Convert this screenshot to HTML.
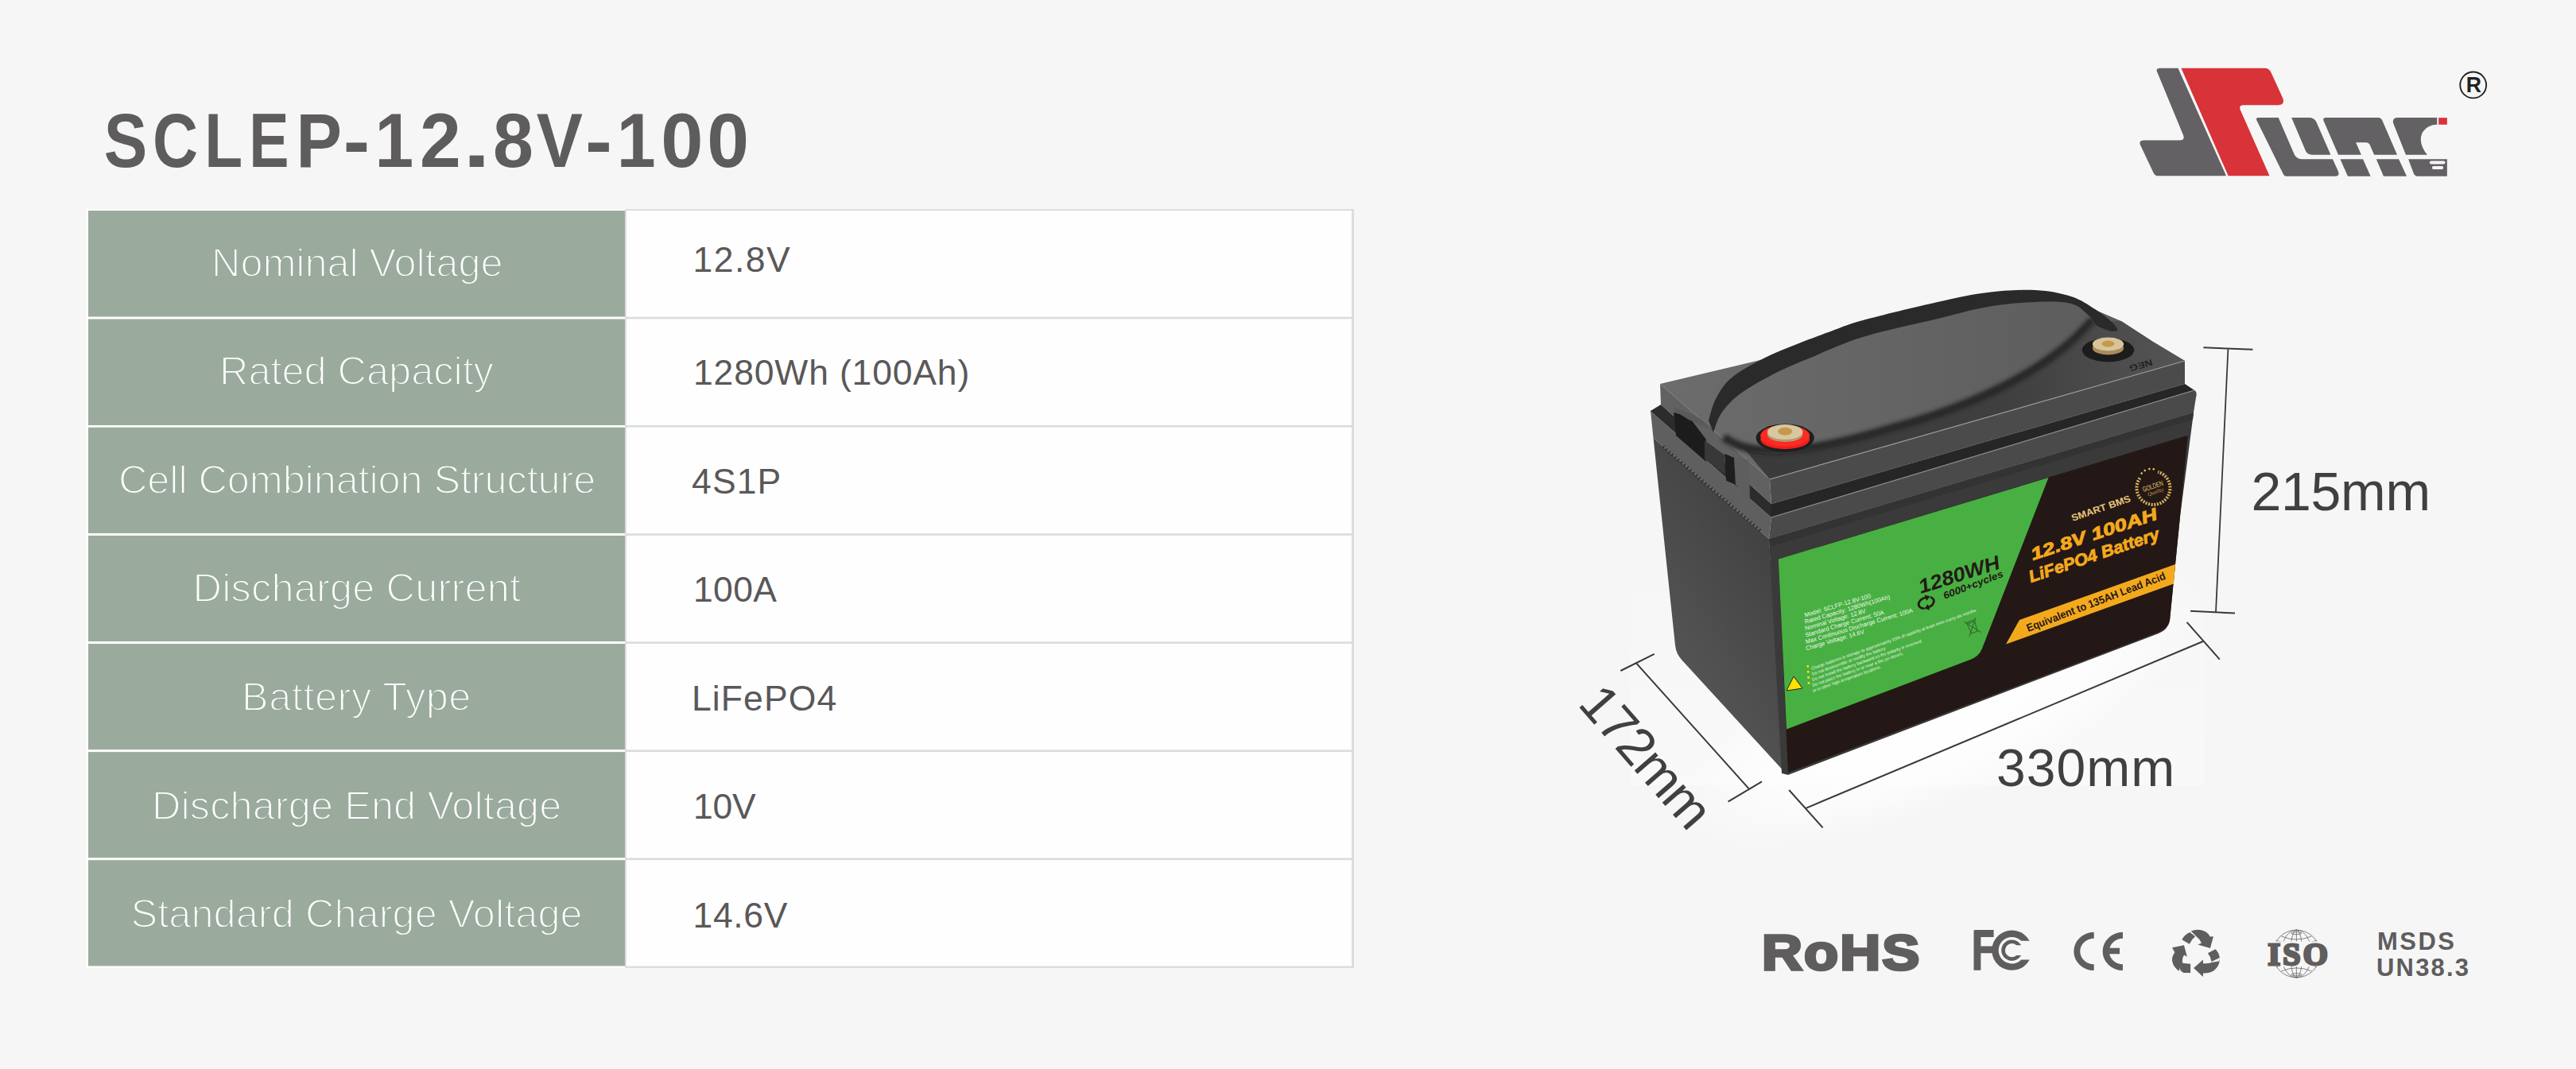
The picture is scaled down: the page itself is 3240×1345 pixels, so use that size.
<!DOCTYPE html>
<html><head><meta charset="utf-8">
<style>
html,body{margin:0;padding:0;background:#f6f6f6;}
body{width:3240px;height:1345px;overflow:hidden;position:relative;font-family:"Liberation Sans",sans-serif;}
svg{position:absolute;left:0;top:0;}
</style></head>
<body>
<svg width="3240" height="1345" viewBox="0 0 3240 1345">
<rect x="0" y="0" width="3240" height="1345" fill="#f6f6f6"/>
<g id="battery">
<defs>
<linearGradient id="gSide" x1="0.8" y1="0" x2="0.2" y2="1">
<stop offset="0" stop-color="#3c3c3c"/><stop offset="0.6" stop-color="#4f4f4f"/><stop offset="1" stop-color="#5a5a5a"/>
</linearGradient>
<radialGradient id="gDome" cx="0.5" cy="0.45" r="0.55">
<stop offset="0" stop-color="#737373"/><stop offset="0.75" stop-color="#6a6a6a"/><stop offset="1" stop-color="#505050"/>
</radialGradient>
<linearGradient id="gTop" x1="0" y1="0" x2="1" y2="0">
<stop offset="0" stop-color="#6c6c6c"/><stop offset="0.5" stop-color="#636363"/><stop offset="1" stop-color="#5a5a5a"/>
</linearGradient>
<filter id="blur2" x="-5%" y="-20%" width="110%" height="140%"><feGaussianBlur stdDeviation="2.5"/></filter>
</defs>
<!-- photo background -->
<linearGradient id="gPhoto" x1="0" y1="0" x2="0" y2="1"><stop offset="0" stop-color="#f6f6f6"/><stop offset="0.55" stop-color="#f6f6f6"/><stop offset="1" stop-color="#f9f9f9"/></linearGradient>
<rect x="2050" y="300" width="722" height="688" fill="url(#gPhoto)"/>
<!-- floor glow -->
<radialGradient id="gGlow"><stop offset="0" stop-color="#ffffff" stop-opacity="1"/><stop offset="0.6" stop-color="#ffffff" stop-opacity="0.7"/><stop offset="1" stop-color="#ffffff" stop-opacity="0"/></radialGradient>
<ellipse cx="2440" cy="890" rx="360" ry="120" fill="url(#gGlow)" transform="rotate(-24 2440 890)"/>
<!-- body side face -->
<path d="M2079.5,551 L2225,678 L2246,973 L2115,830 Q2108,822 2107,812 Z" fill="url(#gSide)"/>
<!-- rim side face -->
<path d="M2076,517 L2228,651 L2225,678 L2079.5,551 Z" fill="#5f5f5f"/>
<path d="M2076,517 L2228,651" stroke="#777" stroke-width="1.5"/>
<!-- serration -->
<path d="M2091.6,562 L2215.6,669" stroke="#2a2a2a" stroke-width="4" stroke-dasharray="1.5 3.5"/>
<!-- groove side -->
<path d="M2089,509 L2228,634 L2228,651 L2076,517 Z" fill="#2c2c2c"/>
<!-- lid side face -->
<path d="M2088,483 L2226,603 L2228,634 L2089,509 Z" fill="#616161"/>
<!-- slot on lid side -->
<path d="M2105,519 L2124,524 L2146,553 L2146,581 L2108,548 Z" fill="#1c1c1c"/>
<path d="M2144,554 L2169.4,572.7 L2169.4,596.3 L2144,577.8 Z" fill="#383838"/>
<path d="M2169.4,571 L2181.2,576.1 L2182.9,609.8 L2171.1,604.7 Z" fill="#1e1e1e"/>
<path d="M2181.2,574.4 L2199.8,579 L2201,632 L2182.9,609.8 Z" fill="#5e5e5e"/>
<path d="M2106,512 L2154,533 L2154,541 L2124,528 L2106,517 Z" fill="#5a5a5a"/>
<!-- lid top surface -->
<path d="M2088,483 L2214,453 L2400,400 L2560,368 L2610,376 L2640,392 L2668,404 L2708,430 L2748,454 L2226,603 Z" fill="url(#gTop)"/>
<!-- flat front region below dome -->
<linearGradient id="gFlat" x1="0" y1="0" x2="1" y2="0"><stop offset="0" stop-color="#3a3a3a"/><stop offset="0.6" stop-color="#3f3f3f"/><stop offset="1" stop-color="#555555"/></linearGradient>
<path d="M2190,560 C2215,580 2275,572 2380,540 C2470,516 2580,470 2636,404 L2668,404 L2708,430 L2748,454 L2226,603 Z" fill="url(#gFlat)"/>
<path d="M2168,550 C2205,578 2275,570 2380,538 C2470,514 2575,470 2632,402" fill="none" stroke="#262626" stroke-width="10" filter="url(#blur2)"/>
<!-- lid front face -->
<path d="M2226,603 L2748,454 L2748,483 L2228,634 Z" fill="#4b4b4b"/>
<path d="M2226,603 L2748,454" stroke="#9c9c9c" stroke-width="1.2"/>
<!-- groove front -->
<path d="M2228,634 L2748,483 L2760,491 L2228,651 Z" fill="#262626"/>
<!-- rim front face -->
<path d="M2228,651 Q2760,491 2760,491 Q2764,493 2762,500 L2759,519 L2225,678 Z" fill="#4a4a4a"/>
<path d="M2228,651 L2760,491" stroke="#8c8c8c" stroke-width="1.2"/>
<!-- body front face -->
<path d="M2225,678 L2759,519 L2742,650 L2729,781 Q2727,792 2715,797 L2249,975 L2241,973 Z" fill="#3a3a3a"/>
<path d="M2225,678 L2759,519 L2758,528 L2226,688 Z" fill="#333"/>
<!-- label dark -->
<path d="M2236.8,703.5 L2751.6,547.7 L2742,650 L2729,781 Q2727,790 2716,795 L2249,972 Z" fill="#231815"/>
<!-- green -->
<path d="M2236.8,703.5 L2576.5,601 L2493,816 Q2489,826 2478,830 L2247,917.4 Z" fill="#48b042"/>
<!-- gold band -->
<path d="M2540,780 L2736,710 L2734,734.5 L2523,810.5 Z" fill="#f4a91d"/>
<text transform="translate(2551,795) rotate(-21)" font-family="Liberation Sans" font-weight="bold" font-size="13.5" fill="#231815" textLength="186" lengthAdjust="spacingAndGlyphs">Equivalent to 135AH Lead Acid</text>
<text transform="translate(2557,705) rotate(-18.3)" font-family="Liberation Sans" font-weight="bold" font-style="italic" font-size="21.5" fill="#f4a91d" stroke="#f4a91d" stroke-width="0.9" textLength="166" lengthAdjust="spacingAndGlyphs">12.8V 100AH</text>
<text transform="translate(2554.5,733) rotate(-18.7)" font-family="Liberation Sans" font-weight="bold" font-style="italic" font-size="21" fill="#f4a91d" stroke="#f4a91d" stroke-width="0.8" textLength="172" lengthAdjust="spacingAndGlyphs">LiFePO4 Battery</text>
<text transform="translate(2607,656) rotate(-19)" font-family="Liberation Sans" font-weight="bold" font-size="12" fill="#e9c47c" textLength="78" lengthAdjust="spacingAndGlyphs">SMART BMS</text>
<!-- badge -->
<g transform="translate(2708.4,613.7) rotate(-19)">
<path d="M-12,-17 A21,21 0 1 0 12,-17" fill="none" stroke="#d9b45e" stroke-width="4" stroke-dasharray="2 1.6"/>
<g fill="#e6c46c"><circle cx="-8" cy="-22" r="1.3"/><circle cx="-3" cy="-24" r="1.3"/><circle cx="3" cy="-24" r="1.3"/><circle cx="8" cy="-22" r="1.3"/></g>
<text x="0" y="1" text-anchor="middle" font-family="Liberation Sans" font-size="9" fill="#e6c46c" textLength="27" lengthAdjust="spacingAndGlyphs">GOLDEN</text>
<text x="1" y="8" text-anchor="middle" font-family="Liberation Serif" font-style="italic" font-size="7" fill="#c9a050">Quality</text>
</g>
<!-- green text -->
<text transform="translate(2416,747) rotate(-17.6)" font-family="Liberation Sans" font-weight="bold" font-style="italic" font-size="25" fill="#221a17" textLength="106" lengthAdjust="spacingAndGlyphs">1280WH</text>
<text transform="translate(2446,754) rotate(-21)" font-family="Liberation Sans" font-weight="bold" font-style="italic" font-size="12.5" fill="#221a17" textLength="80" lengthAdjust="spacingAndGlyphs">6000+cycles</text>
<g transform="translate(2424,758) rotate(-20)" fill="none" stroke="#221a17" stroke-width="2.8">
<path d="M-6,6 A9,6.5 0 0 1 2,-6"/><path d="M6,-5 A9,6.5 0 0 1 -2,6"/>
</g>
<g transform="translate(2424,758) rotate(-20)" fill="#221a17">
<path d="M0,-10 L6,-6 L0,-2 Z"/><path d="M0,10 L-6,6 L0,2 Z"/>
</g>
<g font-family="Liberation Sans" font-size="7.6" fill="#eef6ec">
<text transform="translate(2270.5,776.5) rotate(-16.5)">Model: SCLFP-12.8V-100</text>
<text transform="translate(2270.8,784.9) rotate(-16.5)">Rated Capacity: 1280Wh(100Ah)</text>
<text transform="translate(2271.1,793.3) rotate(-16.5)">Nominal Voltage: 12.8V</text>
<text transform="translate(2271.4,801.7) rotate(-16.5)">Standard Charge Current: 50A</text>
<text transform="translate(2271.7,810.1) rotate(-16.5)">Max Continuous Discharge Current: 100A</text>
<text transform="translate(2272.0,818.5) rotate(-16.5)">Charge Voltage: 14.6V</text>
</g>
<g font-family="Liberation Sans" font-size="5.4" fill="#eef6ec">
<text transform="translate(2279.0,843.0) rotate(-19.6)">Charge batteries in storage to approximately 33% of capacity at least once every six months</text>
<text transform="translate(2279.4,850.0) rotate(-19.6)">Do not disassemble or modify the battery</text>
<text transform="translate(2279.8,857.0) rotate(-19.6)">Do not install the battery backward so the polarity is reversed</text>
<text transform="translate(2280.2,864.0) rotate(-19.6)">Do not place the battery in or near a fire,on stoves,</text>
<text transform="translate(2280.6,871.0) rotate(-19.6)">or in other high-temperature locations.</text>
</g>
<g fill="#f2e600">
<rect x="2272.5" y="837.0" width="2.6" height="2.6"/>
<rect x="2272.9" y="844.0" width="2.6" height="2.6"/>
<rect x="2273.3" y="851.0" width="2.6" height="2.6"/>
<rect x="2273.7" y="858.0" width="2.6" height="2.6"/>
</g>
<path d="M2247,869 L2256,851 L2267,866 Z" fill="#ffe100" stroke="#222" stroke-width="1"/>
<g transform="translate(2481,789) rotate(-20)" fill="none" stroke="#2a4a2a" stroke-width="0.9" opacity="0.8">
<path d="M-5,-6 L5,-6 L4,7 L-4,7 Z"/><path d="M-6,-8 L6,-8"/><path d="M-8,-10 L8,10 M8,-10 L-8,10"/>
</g>
<text transform="translate(2706,452) rotate(164)" font-family="Liberation Sans" font-weight="bold" font-size="11" fill="#222" textLength="30" lengthAdjust="spacingAndGlyphs">NEG</text>
<!-- strap -->
<path d="M2149,529 C2150.5,524.5 2153.3,510.8 2158.0,502.0 C2162.7,493.2 2167.0,484.5 2177.0,476.0 C2187.0,467.5 2204.2,458.2 2218.0,451.0 C2231.8,443.8 2245.5,438.8 2260.0,433.0 C2274.5,427.2 2291.2,421.0 2305.0,416.0 C2318.8,411.0 2321.0,409.0 2343.0,403.0 C2365.0,397.0 2410.8,385.8 2437.0,380.0 C2463.2,374.2 2479.5,370.5 2500.0,368.0 C2520.5,365.5 2542.5,364.2 2560.0,365.0 C2577.5,365.8 2592.5,369.0 2605.0,373.0 C2617.5,377.0 2626.3,383.5 2635.0,389.0 C2643.7,394.5 2652.2,401.5 2657.0,406.0 C2661.8,410.5 2662.8,414.3 2664.0,416.0 L2656,417 C2653.0,415.8 2642.8,413.3 2638.0,410.0 C2633.2,406.7 2632.5,401.7 2627.0,397.0 C2621.5,392.3 2616.2,384.8 2605.0,382.0 C2593.8,379.2 2577.5,379.3 2560.0,380.0 C2542.5,380.7 2520.5,382.5 2500.0,386.0 C2479.5,389.5 2463.2,394.7 2437.0,401.0 C2410.8,407.3 2370.0,415.7 2343.0,424.0 C2316.0,432.3 2293.8,443.2 2275.0,451.0 C2256.2,458.8 2244.5,463.5 2230.0,471.0 C2215.5,478.5 2198.8,487.8 2188.0,496.0 C2177.2,504.2 2170.5,512.0 2165.0,520.0 C2159.5,528.0 2156.7,540.0 2155.0,544.0 Z" fill="#2a2a2a"/>
<!-- terminals -->
<ellipse cx="2245.2" cy="551" rx="36.6" ry="17.5" fill="#1e1e1e"/>
<ellipse cx="2245.2" cy="553" rx="31" ry="12" fill="#e8201e"/>
<ellipse cx="2245.2" cy="548.3" rx="31" ry="13.5" fill="#ff2a22"/>
<ellipse cx="2245.2" cy="546.5" rx="22.3" ry="9.5" fill="#b39a6e"/>
<ellipse cx="2245.2" cy="543.5" rx="22.3" ry="9.5" fill="#d8c7a0"/>
<ellipse cx="2245.2" cy="542.7" rx="9" ry="5" fill="#c49a4a"/>
<ellipse cx="2651.5" cy="440.4" rx="32.7" ry="15" fill="#1c1c1c"/>
<ellipse cx="2651.5" cy="438" rx="19.6" ry="8.4" fill="#a88c5c"/>
<ellipse cx="2651.5" cy="433" rx="19.6" ry="8.4" fill="#d9c49a"/>
<ellipse cx="2651.5" cy="432.5" rx="8" ry="4" fill="#c49a4a"/>
</g>

<g font-family="Liberation Sans" font-weight="bold" font-size="97" fill="#5e5c5d"><text transform="translate(130.67,0) scale(0.8431,1)" x="0" y="209.8">S</text><text transform="translate(192.04,0) scale(0.8143,1)" x="0" y="209.8">C</text><text transform="translate(257.25,0) scale(0.8080,1)" x="0" y="209.8">L</text><text transform="translate(313.34,0) scale(0.7764,1)" x="0" y="209.8">E</text><text transform="translate(372.47,0) scale(0.8891,1)" x="0" y="209.8">P</text><text transform="translate(431.87,0) scale(1.0333,1)" x="0" y="209.8">-</text><text transform="translate(471.59,0) scale(0.9022,1)" x="0" y="209.8">1</text><text transform="translate(528.12,0) scale(0.9596,1)" x="0" y="209.8">2</text><text transform="translate(582.21,0) scale(1.2846,1)" x="0" y="209.8">.</text><text transform="translate(620.07,0) scale(0.9438,1)" x="0" y="209.8">8</text><text transform="translate(674.80,0) scale(0.9000,1)" x="0" y="209.8">V</text><text transform="translate(735.90,0) scale(1.0500,1)" x="0" y="209.8">-</text><text transform="translate(775.86,0) scale(0.9067,1)" x="0" y="209.8">1</text><text transform="translate(831.35,0) scale(0.9870,1)" x="0" y="209.8">0</text><text transform="translate(889.19,0) scale(0.9783,1)" x="0" y="209.8">0</text></g>

<rect x="108.5" y="263" width="680" height="955" fill="#ffffff"/>
<rect x="786" y="263" width="917" height="955" fill="#dcdedd"/>
<rect x="788" y="265" width="912" height="950.5" fill="#fefefe"/>
<g fill="#9aab9e">
<rect x="111" y="265" width="675" height="133.5"/>
<rect x="111" y="401.5" width="675" height="133.5"/>
<rect x="111" y="537.8" width="675" height="133.1"/>
<rect x="111" y="673.9" width="675" height="133.1"/>
<rect x="111" y="810" width="675" height="133.1"/>
<rect x="111" y="946.1" width="675" height="133.1"/>
<rect x="111" y="1082.2" width="675" height="133.2"/>
</g>
<g fill="#dadcdb">
<rect x="788" y="398.7" width="912" height="2.6"/>
<rect x="788" y="535" width="912" height="2.6"/>
<rect x="788" y="671.2" width="912" height="2.6"/>
<rect x="788" y="807.3" width="912" height="2.6"/>
<rect x="788" y="943.4" width="912" height="2.6"/>
<rect x="788" y="1079.5" width="912" height="2.6"/>
</g>

<text x="266.00" y="347.6" font-family="Liberation Sans" font-weight="normal" font-size="50.5" fill="#ffffff" stroke="#9aab9e" stroke-width="1.9" textLength="366.57" lengthAdjust="spacing">Nominal Voltage</text>
<text x="276.00" y="483.9" font-family="Liberation Sans" font-weight="normal" font-size="50.5" fill="#ffffff" stroke="#9aab9e" stroke-width="1.9" textLength="344.87" lengthAdjust="spacing">Rated Capacity</text>
<text x="149.00" y="621.1" font-family="Liberation Sans" font-weight="normal" font-size="50.5" fill="#ffffff" stroke="#9aab9e" stroke-width="1.9" textLength="600.27" lengthAdjust="spacing">Cell Combination Structure</text>
<text x="242.50" y="757.4" font-family="Liberation Sans" font-weight="normal" font-size="50.5" fill="#ffffff" stroke="#9aab9e" stroke-width="1.9" textLength="412.58" lengthAdjust="spacing">Discharge Current</text>
<text x="304.00" y="893.9" font-family="Liberation Sans" font-weight="normal" font-size="50.5" fill="#ffffff" stroke="#9aab9e" stroke-width="1.9" textLength="288.39" lengthAdjust="spacing">Battery Type</text>
<text x="191.00" y="1030.7" font-family="Liberation Sans" font-weight="normal" font-size="50.5" fill="#ffffff" stroke="#9aab9e" stroke-width="1.9" textLength="515.37" lengthAdjust="spacing">Discharge End Voltage</text>
<text x="164.50" y="1167.4" font-family="Liberation Sans" font-weight="normal" font-size="50.5" fill="#ffffff" stroke="#9aab9e" stroke-width="1.9" textLength="568.14" lengthAdjust="spacing">Standard Charge Voltage</text>
<text x="871.50" y="341.8" font-family="Liberation Sans" font-weight="normal" font-size="44.5" fill="#5a5859"  textLength="122.10" lengthAdjust="spacing">12.8V</text>
<text x="872.00" y="483.8" font-family="Liberation Sans" font-weight="normal" font-size="44.5" fill="#5a5859"  textLength="347.24" lengthAdjust="spacing">1280Wh (100Ah)</text>
<text x="870.00" y="620.9" font-family="Liberation Sans" font-weight="normal" font-size="44.5" fill="#5a5859"  textLength="112.28" lengthAdjust="spacing">4S1P</text>
<text x="872.00" y="757.2" font-family="Liberation Sans" font-weight="normal" font-size="44.5" fill="#5a5859"  textLength="104.94" lengthAdjust="spacing">100A</text>
<text x="870.00" y="893.5" font-family="Liberation Sans" font-weight="normal" font-size="44.5" fill="#5a5859"  textLength="182.22" lengthAdjust="spacing">LiFePO4</text>
<text x="872.00" y="1030.0" font-family="Liberation Sans" font-weight="normal" font-size="44.5" fill="#5a5859"  textLength="78.79" lengthAdjust="spacing">10V</text>
<text x="871.50" y="1166.6" font-family="Liberation Sans" font-weight="normal" font-size="44.5" fill="#5a5859"  textLength="118.90" lengthAdjust="spacing">14.6V</text>
<text x="2831.50" y="642.3" font-family="Liberation Sans" font-weight="normal" font-size="68" fill="#423f40"  textLength="225.55" lengthAdjust="spacing">215mm</text>
<text x="2511.00" y="989.1" font-family="Liberation Sans" font-weight="normal" font-size="66" fill="#423f40"  textLength="224.28" lengthAdjust="spacing">330mm</text>
<g transform="scale(1.12,1)"><text x="1978.57" y="1220.3" font-family="Liberation Sans" font-weight="bold" font-size="63" fill="#5f5d5e" stroke="#5f5d5e" stroke-width="3.5" textLength="177.00" lengthAdjust="spacing">RoHS</text></g>
<text x="2852.50" y="1214.0" font-family="Liberation Serif" font-weight="bold" font-size="40" fill="#5f5d5e" stroke="#5f5d5e" stroke-width="3" textLength="75.34" lengthAdjust="spacing">ISO</text>
<text x="2990.00" y="1195.0" font-family="Liberation Sans" font-weight="bold" font-size="31" fill="#5f5d5e"  textLength="96.98" lengthAdjust="spacing">MSDS</text>
<text x="2989.00" y="1228.0" font-family="Liberation Sans" font-weight="bold" font-size="31" fill="#5f5d5e"  textLength="116.11" lengthAdjust="spacing">UN38.3</text>
<g id="logo">
<g transform="translate(2650,60) scale(0.19798)">
<path fill="#636163" d="M318,152 Q310,130 338,130 L452,130 L758,815 L328,815 Q306,815 296,795 L212,618 Q200,588 238,588 L462,588 Q497,588 485,556 Z"/>
<path fill="#d73338" d="M472,130 L1003,130 Q1030,130 1043,158 L1118,322 Q1132,365 1088,365 L868,365 Q836,365 848,396 L1033,815 L771,815 Z"/>
<circle cx="2327" cy="237" r="83" fill="none" stroke="#222" stroke-width="9.5"/>
<text x="2330" y="283" text-anchor="middle" font-family="Liberation Sans" font-weight="bold" font-size="142" fill="#222" transform="translate(2330,0) scale(0.95,1) translate(-2330,0)">R</text>
</g>
<g transform="translate(2830,140) scale(0.10481)" fill="#636163">
<path d="M78,104 Q70,76 98,76 L341,76 L522,496 Q550,574 622,574 L992,574 L1058,720 Q1080,779 1025,779 L432,779 Q410,779 400,757 Z"/>
<path d="M498,76 L707,76 Q770,76 797,132 L968,522 L742,522 Q690,522 668,478 Z"/>
<path d="M1083,576 L1355,576 L1447,779 L1173,779 Z"/>
<path d="M882,112 Q872,76 910,76 L1540,76 Q1572,76 1588,112 L1765,522 L1490,522 L1440,408 Q1425,375 1390,375 L1270,375 L1335,522 L1060,522 Z"/>
<path d="M1515,576 L1785,576 L1880,779 L1603,779 Z"/>
<path d="M1718,140 Q1705,76 1772,76 L2245,76 L2245,160 Q2120,162 2065,262 Q2015,385 2127,522 L1870,522 Z"/>
<path d="M1900,576 L2365,576 L2365,779 L2010,779 Q1978,779 1962,742 Z"/>
<path fill="#d73338" d="M2263,78 L2365,78 L2365,160 L2263,160 Z"/>
<rect x="2155" y="596" width="187" height="38" rx="19" fill="#f6f6f6"/>
<rect x="2184" y="658" width="136" height="38" rx="19" fill="#f6f6f6"/>
</g>
</g>

<g id="dims" stroke="#3b3839" stroke-width="2" fill="none">
<path d="M2771.4,437.2 L2833.5,439.8"/>
<path d="M2802.4,439.3 L2787,770" stroke-width="1.8"/>
<path d="M2755,768.8 L2811,771.6"/>
<path d="M2271.4,1016.8 L2772,806.5"/>
<path d="M2250.2,994 L2292.6,1041.3"/>
<path d="M2750.6,782.8 L2791.8,829.6"/>
<path d="M2057.8,834.2 L2199.7,992.4"/>
<path d="M2038.3,844 L2080.7,822.8"/>
<path d="M2173.6,1008.7 L2216,983.3"/>
</g>
<text transform="translate(2071,952) rotate(48.9)" text-anchor="middle" dy="23" font-family="Liberation Sans" font-size="66" fill="#423f40" textLength="214" lengthAdjust="spacing">172mm</text>

<g id="icons" fill="#5f5d5e">
<g transform="translate(2470,1160) scale(0.132)">
<path d="M105,75 L285,75 L285,143 L162,143 L162,232 L275,232 L275,298 L162,298 L162,460 L95,460 L95,85 Q95,75 105,75 Z"/>
<path d="M626.5,180 A191,191 0 1 0 626.5,360 L547.6,360 A127,127 0 1 1 547.6,180 Z"/>
<path d="M545.7,222 A100,100 0 1 0 545.7,318 L501.8,318 A65,65 0 1 1 501.8,222 Z"/>
<path d="M1240,97 A192,183 0 0 0 1240,463 L1240,403 A132,123 0 0 1 1240,157 Z"/>
<path d="M1515,97 A192,183 0 0 0 1515,463 L1515,403 A130,123 0 0 1 1515,157 Z"/>
<rect x="1385" y="248" width="100" height="57"/>
<path d="M2078,168 Q2105,118 2155,98 L2205,138 Q2170,165 2150,210 Z"/>
<path d="M2165,88 Q2230,60 2300,90 Q2335,110 2345,140 L2378,138 L2348,250 L2230,215 L2265,200 Q2250,165 2212,135 Z"/>
<path d="M1985,245 L2098,222 L2128,332 L2100,315 Q2075,350 2085,392 Q2060,420 2050,468 Q1995,430 1985,370 Q1982,330 2010,290 Z"/>
<path d="M2068,390 L2160,400 L2160,485 L2095,485 Q2060,470 2060,440 Z"/>
<path d="M2325,298 L2398,260 Q2430,290 2438,340 L2360,378 Q2355,335 2325,298 Z"/>
<path d="M2438,350 Q2440,420 2380,465 Q2340,490 2280,488 L2280,522 L2190,440 L2280,360 L2280,395 Q2340,400 2365,385 L2430,375 Z"/>
</g>
<g transform="translate(2840,1160) scale(0.1087)">
<clipPath id="isoclip"><rect x="0" y="0" width="900" height="225"/><rect x="0" y="515" width="900" height="300"/></clipPath>
<g clip-path="url(#isoclip)" fill="none" stroke="#5f5d5e" stroke-width="7">
<circle cx="445" cy="368" r="275"/>
<ellipse cx="445" cy="368" rx="70" ry="275"/>
<ellipse cx="445" cy="368" rx="175" ry="275"/>
<line x1="445" y1="90" x2="445" y2="650"/>
<ellipse cx="445" cy="130" rx="60" ry="14"/>
<ellipse cx="445" cy="610" rx="60" ry="14"/>
<path d="M270,165 Q445,240 620,165"/>
<path d="M210,215 Q445,300 680,215"/>
<path d="M270,570 Q445,495 620,570"/>
<path d="M210,520 Q445,440 680,520"/>
</g>
</g>
</g>

</svg>
</body></html>
